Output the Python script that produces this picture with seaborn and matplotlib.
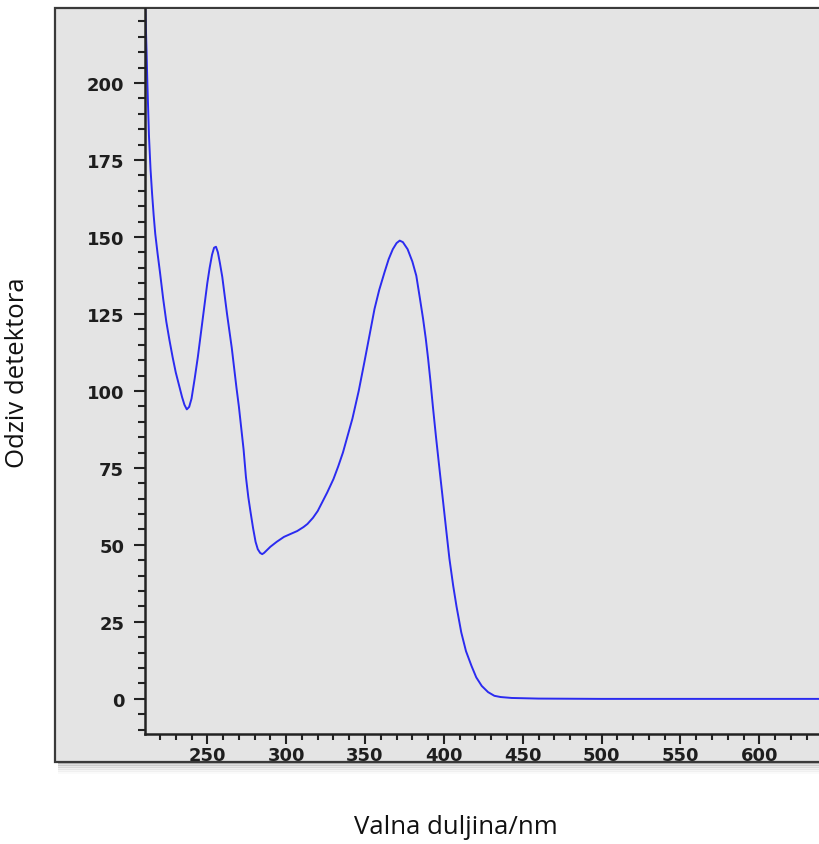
# UV-Vis spectrum (detector response vs. wavelength), redrawn with seaborn.

import pandas as pd
import seaborn as sns
import matplotlib.pyplot as plt
from matplotlib.patches import Rectangle
from matplotlib.ticker import MultipleLocator

# values
wavelength = [210.5, 211.5, 212, 213, 214, 215, 216, 217, 218.5, 220, 222, 224,
              226, 228, 230, 232, 234, 235.5, 237, 238.5, 240, 242, 244, 246,
              248, 250, 251.5, 253, 254.3, 255.5, 256.7, 258, 259.5, 261,
              262.5, 264, 265.5, 267, 268.5, 270, 271.5, 273, 274.5, 276,
              277.4, 279, 280.6, 282, 283.5, 284.8, 286, 288, 290, 294, 298.6,
              303, 307, 311, 313.5, 317, 320, 323, 326, 330, 333, 336, 339,
              342, 346, 349.6, 353, 356, 359, 362.4, 365, 367.6, 370, 372,
              374, 377, 380, 382.5, 384.8, 386.8, 388.5, 390, 391.5, 393, 395,
              397.4, 399.5, 401.6, 403.5, 405.9, 408, 411, 414, 417.5, 420.5,
              424, 428, 432, 436, 443, 460, 500, 550, 600, 640]
response = [228, 210, 200, 183, 172, 164, 157, 151, 144.5, 138.5, 130, 122.5,
            116.5, 111, 106, 102, 98, 95.5, 94, 94.8, 97.5, 104, 111, 119,
            127, 135, 140, 144.2, 146.5, 146.8, 145, 141.5, 137, 131,
            125, 119.5, 114, 107.5, 101, 95, 88, 81, 72, 65.5,
            60.7, 55.5, 51, 48.6, 47.4, 47, 47.4, 48.4, 49.4, 51, 52.6,
            53.6, 54.5, 55.8, 56.8, 58.8, 61, 64, 67, 71.4, 75.5, 80, 85.5,
            91, 100, 109.4, 118.5, 126.6, 132.8, 138.6, 142.8, 146, 148, 148.8,
            148.3, 146, 142, 137.4, 130, 123.4, 117, 110.4, 103, 95, 85,
            73.7, 64, 54.2, 45.5, 36.7, 30, 21.6, 15.5, 10.7, 7,
            4.2, 2.2, 1, 0.6, 0.3, 0.1, 0, 0, 0, 0]

x_label = "Valna duljina/nm"
y_label = "Odziv detektora"

df = pd.DataFrame({"wavelength": wavelength, "response": response})

sns.set_style("white")
plt.rcParams["font.family"] = ["DejaVu Sans"]

W, H = 819, 845
fig = plt.figure(figsize=(W / 100, H / 100), dpi=100)

panel_bg = "#e4e4e4"

# drop shadow below the screenshot-like panel
for i, a in enumerate([0.16, 0.12, 0.09, 0.06, 0.04, 0.02]):
    fig.patches.append(Rectangle((58 / W, 1 - (765 + i * 2) / H), 1.0, 3 / H,
                                 transform=fig.transFigure, color="black",
                                 alpha=a, lw=0, zorder=0))
# grey panel with dark border
fig.patches.append(Rectangle((55 / W, 1 - 763 / H), 1.0, (763 - 9) / H,
                             transform=fig.transFigure, facecolor=panel_bg,
                             edgecolor="#3a3a3a", lw=1.6, zorder=1))

ax = fig.add_axes([145 / W, 1 - 735 / H, (W - 145) / W + 0.01, (735 - 10) / H])
ax.set_facecolor(panel_bg)
ax.set_zorder(2)

sns.lineplot(data=df, x="wavelength", y="response", ax=ax,
             color="#2b2bf0", lw=1.4)

ax.set_xlim(210.5, 643)
ax.set_ylim(-11.4, 224)

ax.xaxis.set_major_locator(MultipleLocator(50))
ax.xaxis.set_minor_locator(MultipleLocator(10))
ax.yaxis.set_major_locator(MultipleLocator(25))
ax.yaxis.set_minor_locator(MultipleLocator(5))

ax.tick_params(axis="both", which="both", bottom=True, left=True,
               direction="out", width=1.5, color="#222222")
ax.tick_params(axis="both", which="major", length=8, labelsize=13,
               labelcolor="#1e1e1e")
ax.tick_params(axis="y", which="minor", length=5)
ax.tick_params(axis="x", which="minor", length=4)
ax.tick_params(axis="x", which="major", length=7, pad=2)
ax.tick_params(axis="y", which="major", pad=7)
for lab in ax.get_xticklabels() + ax.get_yticklabels():
    lab.set_fontweight("bold")

for side in ["top", "right"]:
    ax.spines[side].set_visible(False)
for side in ["left", "bottom"]:
    ax.spines[side].set_linewidth(1.8)
    ax.spines[side].set_color("#222222")

ax.set_xlabel("")
ax.set_ylabel("")

fig.text(456 / W, 1 - 828 / H, x_label, ha="center", va="center",
         fontsize=18.5, family=["Open Sans", "DejaVu Sans"], color="#111111")
fig.text(18 / W, 1 - 373 / H, y_label, ha="center", va="center",
         rotation=90, fontsize=18.5, family=["Open Sans", "DejaVu Sans"],
         color="#111111")

fig.savefig("out.png", dpi=100)
